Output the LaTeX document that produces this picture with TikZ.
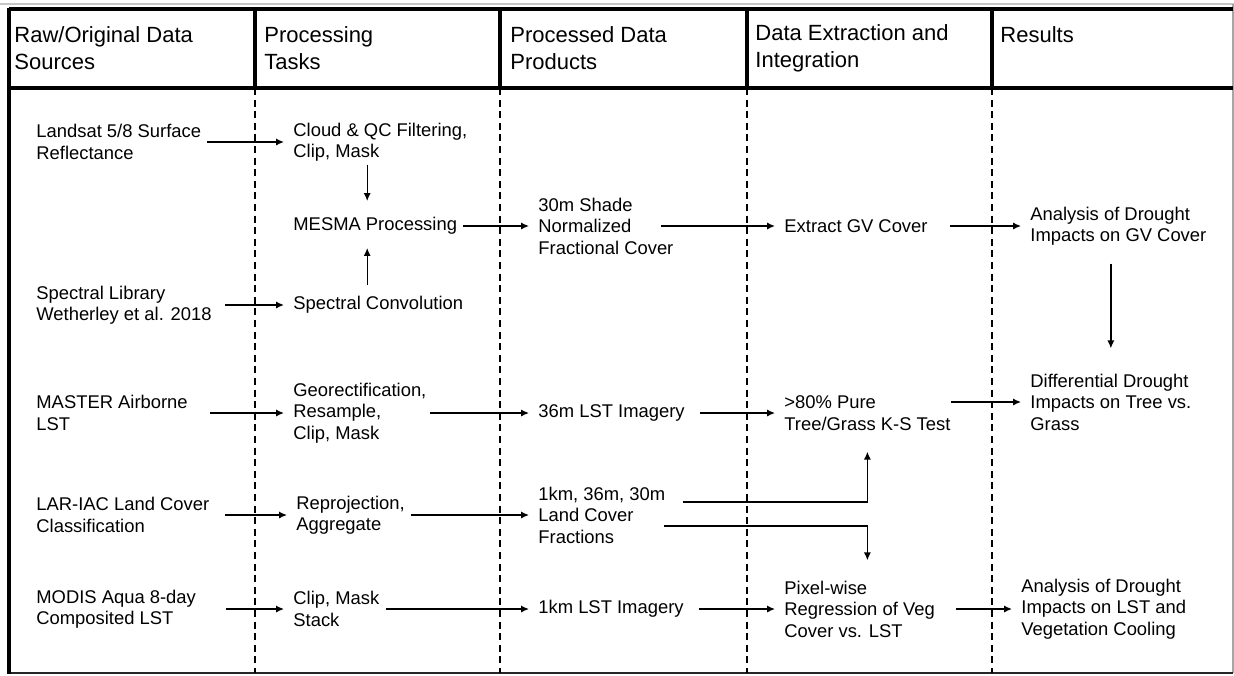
\documentclass[tikz,border=0pt]{standalone}
\usepackage{fontspec}
\setmainfont{Liberation Sans}
\usetikzlibrary{arrows.meta}
\newcommand{\bodysize}{\fontsize{9.2}{10.75}\selectfont}
\newcommand{\headsize}{\fontsize{11}{13.5}\selectfont}

\begin{document}
\begin{tikzpicture}[x=0.5pt, y=-0.5pt, >={Latex[length=4pt,width=3.6pt]},
    txt/.style={anchor=west, align=left, inner sep=0pt, font=\bodysize},
    head/.style={anchor=west, align=left, inner sep=0pt, font=\headsize},
    arr/.style={->, line width=0.7pt, shorten <=3pt, shorten >=4.5pt}]
    \useasboundingbox (0,0) rectangle (1234,675);

    \draw[gray!45, line width=1pt] (0,4) -- (1234,4);
    \draw[gray!70, line width=0.8pt] (1233,4) -- (1233,673);
    \draw[black!85, line width=0.9pt] (9,673) -- (1233,673);
    \draw[line width=2pt] (9,9) -- (1233,9);
    \draw[line width=1.6pt] (9,88) -- (1233,88);
    \draw[line width=2pt] (9,8) -- (9,674);
    \foreach \x in {255,500,747,992} {
        \draw[line width=1.6pt] (\x,9) -- (\x,88);
        \draw[line width=0.75pt, dash pattern=on 3.5pt off 2.3pt] (\x,88) -- (\x,673);
    }

    \node[head] (hraw) at (14,48.5) {Raw/Original Data\\Sources};
    \node[head] (htask) at (264,48.5) {Processing\\Tasks};
    \node[head] (hprod) at (510,48.5) {Processed Data\\Products};
    \node[head] (hextr) at (755,48.5) {Data Extraction and\\Integration};
    \node[head] (hres) at (1000,35) {Results};

    \node[txt] (landsat) at (36,142) {Landsat 5/8 Surface\\Reflectance};
    \node[txt] (cloud) at (293,142) {Cloud \& QC Filtering,\\Clip, Mask};
    \node[txt] (mesma) at (293,226) {MESMA Processing};
    \node[txt] (shade) at (538,226) {30m Shade\\Normalized\\Fractional Cover};
    \node[txt] (extract) at (784,226) {Extract GV Cover};
    \node[txt] (gv) at (1030,226) {Analysis of Drought\\Impacts on GV Cover};
    \node[txt] (speclib) at (36,305) {Spectral Library\\Wetherley et al. 2018};
    \node[txt] (sconv) at (293,305) {Spectral Convolution};
    \node[txt] (master) at (36,413) {MASTER Airborne\\LST};
    \node[txt] (georect) at (293,413) {Georectification,\\Resample,\\Clip, Mask};
    \node[txt] (lst36) at (538,413) {36m LST Imagery};
    \node[txt] (pure) at (784,413) {>80\% Pure\\Tree/Grass K-S Test};
    \node[txt] (diff) at (1030,402) {Differential Drought\\Impacts on Tree vs.\\Grass};
    \node[txt] (lariac) at (36,515) {LAR-IAC Land Cover\\Classification};
    \node[txt] (reproj) at (296,515) {Reprojection,\\Aggregate};
    \node[txt] (landcov) at (538,515) {1km, 36m, 30m\\Land Cover\\Fractions};
    \node[txt] (modis) at (36,609) {MODIS Aqua 8-day\\Composited LST};
    \node[txt] (clipmask) at (293,609) {Clip, Mask\\Stack};
    \node[txt] (lst1km) at (538,609) {1km LST Imagery};
    \node[txt] (pixel) at (784,609) {Pixel-wise\\Regression of Veg\\Cover vs. LST};
    \node[txt] (lstcool) at (1021,609) {Analysis of Drought\\Impacts on LST and\\Vegetation Cooling};

    \draw[arr] (landsat) -- (cloud);
    \draw[arr, shorten <=6.5pt] (speclib) -- (sconv);
    \draw[arr, shorten <=11pt] (master) -- (georect);
    \draw[arr, shorten <=7.5pt] (lariac) -- (reproj);
    \draw[arr, shorten <=15pt] (modis) -- (clipmask);
    \draw[arr] (mesma) -- (shade);
    \draw[arr, shorten <=1.5pt] (georect) -- (lst36);
    \draw[arr] (reproj) -- (landcov);
    \draw[arr] (clipmask) -- (lst1km);
    \draw[arr, shorten <=-6.5pt] (shade) -- (extract);
    \draw[arr, shorten <=7.5pt] (lst36) -- (pure);
    \draw[arr, shorten <=7.5pt] (lst1km) -- (pixel);
    \draw[arr, shorten <=11pt] (extract) -- (gv);
    \draw[arr, shorten <=0pt] (pure.east |- diff.west) -- (diff.west);
    \draw[arr, shorten <=10.5pt] (pixel) -- (lstcool);

    \draw[arr, shorten <=1.5pt, shorten >=8pt] ([xshift=-4pt]mesma.north |- cloud.south) -- ([xshift=-4pt]mesma.north);
    \draw[arr, shorten <=5.5pt, shorten >=6.5pt] ([xshift=-4pt]mesma.south |- sconv.north) -- ([xshift=-4pt]mesma.south);
    \draw[arr, shorten <=9pt, shorten >=12.5pt] (gv.south -| diff.north) -- (diff.north);
    \draw[arr, shorten <=8.5pt, shorten >=10.5pt] ([yshift=6.5pt]landcov.east) -| (pure.south);
    \draw[arr, shorten <=-1pt, shorten >=10pt] ([yshift=-5.5pt]landcov.east) -| (pixel.north -| pure.south);
\end{tikzpicture}
\end{document}
